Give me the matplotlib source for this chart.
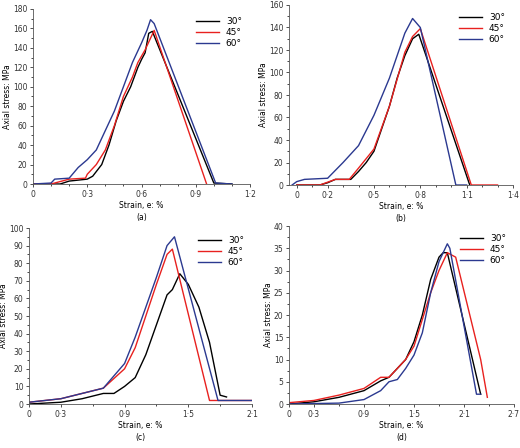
import matplotlib
matplotlib.use("Agg")
import matplotlib.pyplot as plt
from matplotlib.ticker import MultipleLocator

labels = ["30°", "45°", "60°"]
colors = ["black", "#e8211f", "#2b3990"]

a30x=[0,0.15,0.2,0.3,0.33,0.38,0.42,0.46,0.5,0.54,0.58,0.6,0.62,0.64,0.66,1.0,1.1]
a30y=[0,0,3,5,8,20,40,65,85,100,120,128,135,155,157,1,0]
a45x=[0,0.1,0.2,0.29,0.3,0.35,0.4,0.45,0.5,0.55,0.58,0.62,0.65,0.67,0.96]
a45y=[0,0,5,6,10,20,35,60,90,110,125,138,150,158,0]
a60x=[0,0.1,0.12,0.2,0.25,0.3,0.35,0.4,0.45,0.5,0.55,0.6,0.63,0.65,0.67,1.01,1.1]
a60y=[0,1,5,6,17,25,35,55,75,100,125,145,158,169,165,1,0]

b30x=[0,0.15,0.2,0.25,0.35,0.4,0.45,0.5,0.55,0.6,0.65,0.7,0.75,0.79,1.12]
b30y=[0,0,2,5,5,12,20,30,50,70,95,115,130,134,0]
b45x=[0,0.15,0.25,0.34,0.4,0.5,0.6,0.7,0.75,0.8,1.13,1.3]
b45y=[0,0,5,5,15,32,70,118,132,139,0,0]
b60x=[-0.03,0,0.05,0.2,0.3,0.4,0.5,0.6,0.7,0.75,0.8,1.03,1.1]
b60y=[0,3,5,6,20,35,62,95,135,148,140,0,0]

c30x=[0,0.3,0.5,0.7,0.8,0.9,1.0,1.1,1.2,1.3,1.35,1.42,1.5,1.6,1.7,1.8,1.86]
c30y=[0,1,3,6,6,10,15,28,45,62,65,74,68,55,35,5,4]
c45x=[0,0.3,0.5,0.7,0.9,1.0,1.1,1.2,1.3,1.35,1.7,2.1]
c45y=[1,3,6,9,20,32,50,68,85,88,2,2]
c60x=[0,0.3,0.5,0.7,0.9,1.0,1.1,1.2,1.3,1.37,1.78,2.1]
c60y=[1,3,6,9,23,38,55,72,90,95,2,2]

d30x=[0,0.3,0.6,0.9,1.1,1.2,1.4,1.5,1.6,1.7,1.8,1.85,1.9,2.3]
d30y=[0,0.5,1.5,3,5.2,6,10,14,20,28,33,34,34,2.2]
d45x=[0,0.3,0.6,0.9,1.1,1.2,1.4,1.5,1.6,1.7,1.8,1.9,2.0,2.3,2.38]
d45y=[0.3,0.8,2,3.5,6,6,10,13,19,25,30,34,33,10,1.5]
d60x=[0,0.6,0.9,1.1,1.2,1.3,1.4,1.5,1.6,1.7,1.8,1.9,1.93,2.25,2.3]
d60y=[0,0.2,1,3,5,5.5,8,11,16,25,32,36,35,2.2,2.2]

panels = [
    dict(rect=[33/520,1-184/448,217/520,175/448], data=[(a30x,a30y),(a45x,a45y),(a60x,a60y)],
         xlim=(0,1.2), ylim=(0,180), xt=[0,0.3,0.6,0.9,1.2], xl=["0","0·3","0·6","0·9","1·2"], yt=range(0,181,20), xm=0.1, ym=10, tag="(a)"),
    dict(rect=[289/520,1-185/448,224/520,180/448], data=[(b30x,b30y),(b45x,b45y),(b60x,b60y)],
         xlim=(-0.05,1.4), ylim=(0,160), xt=[0,0.2,0.5,0.8,1.1,1.4], xl=["0","0·2","0·5","0·8","1·1","1·4"], yt=range(0,161,20), xm=0.1, ym=10, tag="(b)"),
    dict(rect=[29/520,1-404/448,223/520,176/448], data=[(c30x,c30y),(c45x,c45y),(c60x,c60y)],
         xlim=(0,2.1), ylim=(0,100), xt=[0,0.3,0.9,1.5,2.1], xl=["0","0·3","0·9","1·5","2·1"], yt=range(0,101,10), xm=0.3, ym=5, tag="(c)"),
    dict(rect=[289/520,1-404/448,225/520,178/448], data=[(d30x,d30y),(d45x,d45y),(d60x,d60y)],
         xlim=(0,2.7), ylim=(0,40), xt=[0,0.3,0.9,1.5,2.1,2.7], xl=["0","0·3","0·9","1·5","2·1","2·7"], yt=range(0,41,5), xm=0.3, ym=2.5, tag="(d)"),
]

fig = plt.figure(figsize=(5.2,4.48), dpi=100)
for p in panels:
    ax = fig.add_axes(p["rect"])
    for (x,y),c,l in zip(p["data"],colors,labels):
        ax.plot(x,y,color=c,lw=1.0,label=l)
    ax.set_xlim(*p["xlim"]); ax.set_ylim(*p["ylim"])
    ax.set_xticks(p["xt"]); ax.set_xticklabels(p["xl"])
    ax.set_yticks(list(p["yt"]))
    ax.xaxis.set_minor_locator(MultipleLocator(p["xm"]))
    ax.yaxis.set_minor_locator(MultipleLocator(p["ym"]))
    for s in ["top","right"]:
        ax.spines[s].set_visible(False)
    for s in ["left","bottom"]:
        ax.spines[s].set_color("#555555"); ax.spines[s].set_linewidth(0.6)
    ax.tick_params(labelsize=5.5, colors="#333333", width=0.6, length=2.5, pad=1.5)
    ax.tick_params(which="minor", width=0.5, length=1.5)
    ax.set_ylabel("Axial stress: MPa", fontsize=5.5, labelpad=0.5)
    ax.set_xlabel("Strain, e: %\n" + p["tag"], fontsize=5.5, labelpad=1.5, linespacing=1.5)
    ax.legend(loc="upper right", frameon=False, fontsize=6.5, handlelength=2.5, labelspacing=0.2)
fig.savefig("out.png", dpi=100)
